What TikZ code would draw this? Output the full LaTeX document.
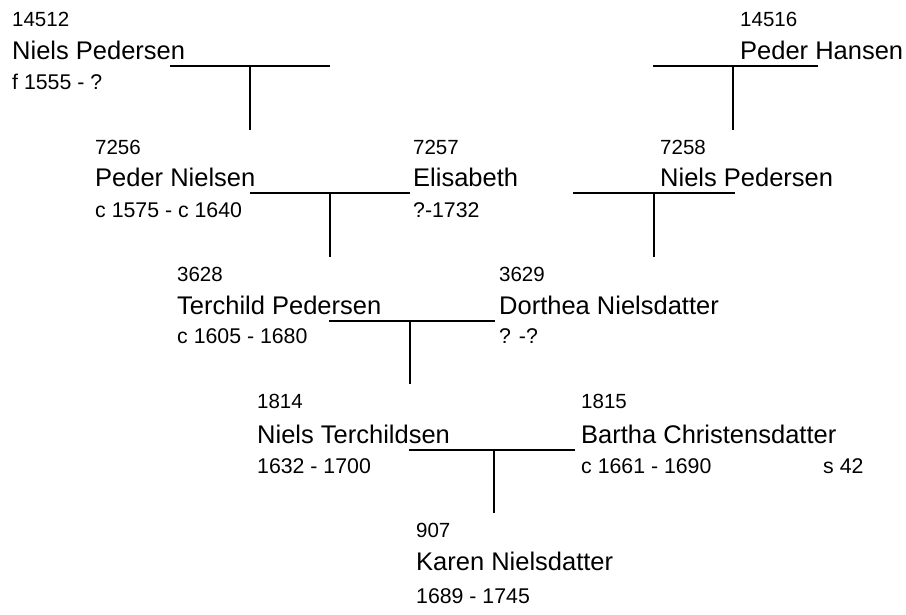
\documentclass[tikz,border=0pt]{standalone}
\usepackage{fontspec}
\setmainfont{Liberation Sans}
\begin{document}
\begin{tikzpicture}[x=1pt,y=-1pt]
\tikzstyle{pid} = [anchor=base west, inner sep=0pt, font=\fontsize{20.5}{20.5}\selectfont]
\tikzstyle{pname} = [anchor=base west, inner sep=0pt, font=\fontsize{25.5}{25.5}\selectfont]
\tikzstyle{plife} = [anchor=base west, inner sep=0pt, font=\fontsize{21.3}{21.3}\selectfont]
\tikzstyle{couple} = [line width=2pt]
\tikzstyle{descent} = [line width=2pt, shorten >=9.5pt]

\useasboundingbox (0,0) rectangle (906,614);

%nodes
\node (id14512) [pid] at (12,26) {14512};
\node (nm14512) [pname] at (12,59) {Niels Pedersen};
\node (lf14512) [plife] at (12,89) {f 1555 - ?};

\node (id14516) [pid] at (740,26) {14516};
\node (nm14516) [pname] at (740,59) {Peder Hansen};

\node (id7256) [pid] at (95,154) {7256};
\node (nm7256) [pname] at (95,186) {Peder Nielsen};
\node (lf7256) [plife] at (95,217) {c 1575 - c 1640};

\node (id7257) [pid] at (413,154) {7257};
\node (nm7257) [pname] at (413,186) {Elisabeth};
\node (lf7257) [plife] at (413,217) {?-1732};

\node (id7258) [pid] at (660,154) {7258};
\node (nm7258) [pname] at (660,186) {Niels Pedersen};

\node (id3628) [pid] at (177,281) {3628};
\node (nm3628) [pname] at (177,314) {Terchild Pedersen};
\node (lf3628) [plife] at (177,343) {c 1605 - 1680};

\node (id3629) [pid] at (499,281) {3629};
\node (nm3629) [pname] at (499,314) {Dorthea Nielsdatter};
\node (lf3629) [plife] at (499,343) {? -?};

\node (id1814) [pid] at (257,408) {1814};
\node (nm1814) [pname] at (257,443) {Niels Terchildsen};
\node (lf1814) [plife] at (257,473) {1632 - 1700};

\node (id1815) [pid] at (581,408) {1815};
\node (nm1815) [pname] at (581,443) {Bartha Christensdatter};
\node (lf1815) [plife] at (581,473) {c 1661 - 1690};
\node (src1815) [plife] at (823,473) {s 42};

\node (id907) [pid] at (416,537) {907};
\node (nm907) [pname] at (416,570) {Karen Nielsdatter};
\node (lf907) [plife] at (416,603) {1689 - 1745};

%couple lines
\coordinate (u1l) at (170,66);  \coordinate (u1r) at (330,66);
\coordinate (u2l) at (653,66);  \coordinate (u2r) at (818,66);
\coordinate (u3l) at (250,193); \coordinate (u3r) at (410,193);
\coordinate (u4l) at (573,193); \coordinate (u4r) at (735,193);
\coordinate (u5l) at (329,321); \coordinate (u5r) at (495,321);
\coordinate (u6l) at (409,450); \coordinate (u6r) at (575,450);

\draw[couple] (u1l) -- coordinate (u1m) (u1r);
\draw[couple] (u2l) -- coordinate[pos=.485] (u2m) (u2r);
\draw[couple] (u3l) -- coordinate (u3m) (u3r);
\draw[couple] (u4l) -- coordinate (u4m) (u4r);
\draw[couple] (u5l) -- coordinate[pos=.49] (u5m) (u5r);
\draw[couple] (u6l) -- coordinate[pos=.51] (u6m) (u6r);

%descent lines
\draw[descent] (u1m) -- (u1m |- id7256.north);
\draw[descent] (u2m) -- (u2m |- id7258.north);
\draw[descent] (u3m) -- (u3m |- id3628.north);
\draw[descent] (u4m) -- (u4m |- id3629.north);
\draw[descent] (u5m) -- (u5m |- id1814.north);
\draw[descent] (u6m) -- (u6m |- id907.north);

\end{tikzpicture}
\end{document}
